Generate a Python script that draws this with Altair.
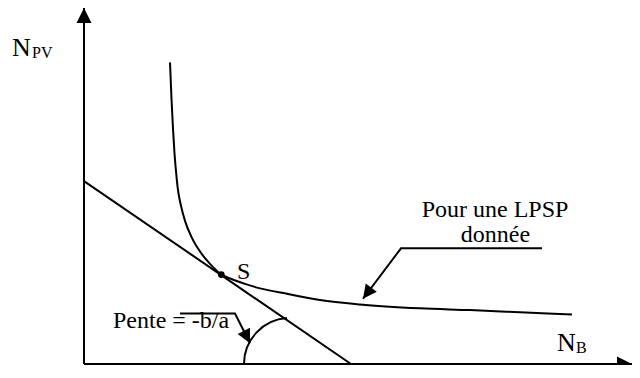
import altair as alt
import pandas as pd

# Schematic units: offsets from the origin of the (N_B, N_PV) axes
# LPSP iso-curve
curve_nb = [86, 87.5, 89, 90.5, 92, 93.7, 96.7, 101, 107.7, 117.7, 126, 137.3,
            148, 161, 176, 203, 236, 276, 336, 386, 436, 488]
curve_npv = [305, 268, 238, 213, 195, 178, 161.3, 144.7, 128, 111.3, 101.3, 90.6,
             85.7, 81, 76.5, 71, 64.7, 60.2, 56.3, 54.5, 52.3, 50]

# tangent (cost) line of slope -b/a
tangent_nb = [0, 267]
tangent_npv = [185, 0]

# optimum point S
s_nb = [137.3]
s_npv = [90.4]

# axes (origin -> arrow tip)
vaxis_nb = [0, 0]
vaxis_npv = [0, 360]
haxis_nb = [0, 548]
haxis_npv = [0, 0]

# leader lines of the annotations
lpsp_lead_nb = [458, 317, 279]
lpsp_lead_npv = [117, 117, 66]
pente_lead_nb = [96, 151, 166]
pente_lead_npv = [51, 51, 21]

# arrowheads: tip position, direction (deg), size
arrow_nb = [0, 548, 279, 166]
arrow_npv = [360, 0, 66, 21]
arrow_angle = [0, 90, 216.7, 153.4]
arrow_size = [225, 225, 190, 190]

# angle arc, centred on the N_B axis
arc_nb = [206]
arc_npv = [0]

# labels
lab_left_text = ["N", "PV", "N", "B", "S", "Pente = -b/a"]
lab_left_nb = [-72, -52, 473, 492, 153, 29]
lab_left_npv = [311, 309, 13, 11, 86, 36]
lab_left_size = [26, 16, 26, 16, 24, 24]

lab_center_text = ["Pour une LPSP", "donnée"]
lab_center_nb = [411, 411.5]
lab_center_npv = [149, 123]
lab_center_size = [24, 24]

FONT = "Liberation Serif"
xs = alt.Scale(domain=[-76, 548], nice=False, zero=False)
ys = alt.Scale(domain=[-1, 360], nice=False, zero=False)


def X():
    return alt.X("x:Q", scale=xs, axis=None)


def Y():
    return alt.Y("y:Q", scale=ys, axis=None)


def poly(xv, yv):
    return pd.DataFrame({"x": xv, "y": yv, "o": list(range(len(xv)))})


def line_layer(xv, yv, width=2.0, interp="linear"):
    return alt.Chart(poly(xv, yv)).mark_line(
        color="black", strokeWidth=width, interpolate=interp, strokeCap="butt"
    ).encode(x=X(), y=Y(), order="o:Q")


curve = line_layer(curve_nb, curve_npv, 2.0, "monotone")
tangent = line_layer(tangent_nb, tangent_npv, 2.0)
vaxis = line_layer(vaxis_nb, vaxis_npv, 2.0)
haxis = line_layer(haxis_nb, haxis_npv, 2.0)
lpsp_lead = line_layer(lpsp_lead_nb, lpsp_lead_npv, 2.0)
pente_lead = line_layer(pente_lead_nb, pente_lead_npv, 2.0)

point = alt.Chart(pd.DataFrame({"x": s_nb, "y": s_npv})).mark_point(
    shape="circle", filled=True, color="black", size=45, opacity=1
).encode(x=X(), y=Y())

arrows = alt.Chart(pd.DataFrame({"x": arrow_nb, "y": arrow_npv, "a": arrow_angle, "s": arrow_size})).mark_point(
    shape="M0,0L1,2L-1,2Z", filled=True, color="black", opacity=1
).encode(
    x=X(), y=Y(),
    angle=alt.Angle("a:Q", scale=None),
    size=alt.Size("s:Q", scale=None),
)

arc = alt.Chart(pd.DataFrame({"x": arc_nb, "y": arc_npv})).mark_arc(
    radius=46, radius2=46, theta=4.712, theta2=6.218,
    filled=False, stroke="black", strokeWidth=2
).encode(x=X(), y=Y())

labels_left = alt.Chart(pd.DataFrame({
    "x": lab_left_nb, "y": lab_left_npv, "t": lab_left_text, "s": lab_left_size
})).mark_text(align="left", baseline="alphabetic", font=FONT, color="black").encode(
    x=X(), y=Y(), text="t:N", size=alt.Size("s:Q", scale=None)
)

labels_center = alt.Chart(pd.DataFrame({
    "x": lab_center_nb, "y": lab_center_npv, "t": lab_center_text, "s": lab_center_size
})).mark_text(align="center", baseline="alphabetic", font=FONT, color="black").encode(
    x=X(), y=Y(), text="t:N", size=alt.Size("s:Q", scale=None)
)

chart = alt.layer(
    vaxis, haxis, tangent, curve, arc, lpsp_lead, pente_lead, arrows, point,
    labels_left, labels_center
).properties(
    width=624, height=357, padding=0,
    autosize=alt.AutoSizeParams(type="none"),
    background="white",
).configure_view(stroke=None)

chart.save("out.html", embed_options={"renderer": "svg", "actions": False})
